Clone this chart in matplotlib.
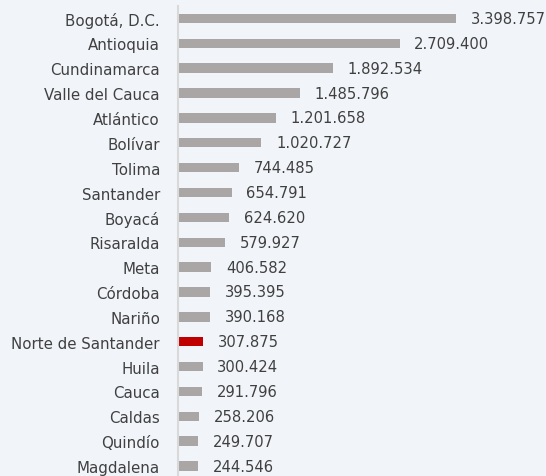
import matplotlib.pyplot as plt

departamentos = ["Bogotá, D.C.", "Antioquia", "Cundinamarca", "Valle del Cauca",
                 "Atlántico", "Bolívar", "Tolima", "Santander", "Boyacá",
                 "Risaralda", "Meta", "Córdoba", "Nariño", "Norte de Santander",
                 "Huila", "Cauca", "Caldas", "Quindío", "Magdalena"]
valores = [3398757, 2709400, 1892534, 1485796, 1201658, 1020727, 744485,
           654791, 624620, 579927, 406582, 395395, 390168, 307875, 300424,
           291796, 258206, 249707, 244546]
etiquetas = ["3.398.757", "2.709.400", "1.892.534", "1.485.796", "1.201.658",
             "1.020.727", "744.485", "654.791", "624.620", "579.927", "406.582",
             "395.395", "390.168", "307.875", "300.424", "291.796", "258.206",
             "249.707", "244.546"]
resaltado = "Norte de Santander"

bg = "#f1f4f9"
txt = "#404040"

fig = plt.figure(figsize=(5.46, 4.77), dpi=100, facecolor=bg)
ax = fig.add_axes([178 / 546, 0.0, 278 / 546, 470 / 477])
ax.set_facecolor(bg)

colores = ["#c00000" if d == resaltado else "#aaa6a6" for d in departamentos]
pos = list(range(len(departamentos)))
ax.barh(pos, valores, height=0.38, color=colores)

for p, v, e in zip(pos, valores, etiquetas):
    ax.annotate(e, (v, p), xytext=(10.5, 0), textcoords="offset points",
                va="center", ha="left", fontsize=10.6, color=txt,
                annotation_clip=False)

ax.set_xlim(0, 3398757)
ax.set_ylim(18.4, -0.5)
ax.set_yticks(pos)
ax.set_yticklabels(departamentos, fontsize=10.8, color=txt)
ax.tick_params(axis="y", length=0, pad=13)
ax.set_xticks([])
for s in ["top", "right", "bottom"]:
    ax.spines[s].set_visible(False)
ax.spines["left"].set_color("#d9d9d9")
ax.spines["left"].set_linewidth(1.5)

fig.savefig("out.png", dpi=100, facecolor=bg)
